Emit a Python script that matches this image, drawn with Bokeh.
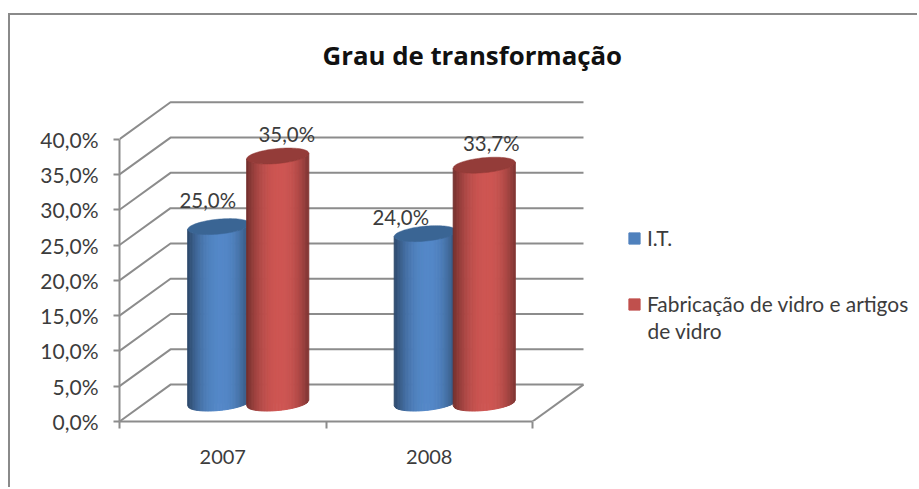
import numpy as np
from bokeh.core.properties import value
from bokeh.embed import file_html
from bokeh.models import (ColumnDataSource, FixedTicker, Label, Legend,
                          LegendItem, Range1d, Title)
from bokeh.plotting import figure
from bokeh.resources import INLINE

categories = ["2007", "2008"]
it_values = [25.0, 24.0]
vidro_values = [35.0, 33.7]
it_labels = ["25,0%", "24,0%"]
vidro_labels = ["35,0%", "33,7%"]
y_ticks = [0, 5, 10, 15, 20, 25, 30, 35, 40]
y_tick_labels = ["0,0%", "5,0%", "10,0%", "15,0%", "20,0%", "25,0%", "30,0%", "35,0%", "40,0%"]
chart_title = "Grau de transformação"
series_names = ["I.T.", "Fabricação de vidro e artigos"]
series_name_2nd_line = "de vidro"

FONT = "Lato"
TEXT = "#3c3c3c"
GRID = "#8c8c8c"
PX_X = 1 / 206.5   # data units per pixel, horizontally
PX_Y = 5 / 35.4    # data units per pixel, vertically
DEPTH_X = 51 * PX_X
DEPTH_Y = 37 * PX_Y
R, D, E = 29 * PX_X, 11 * PX_X, 8 * PX_Y
OFFSET = 29.5 * PX_X
N_STRIPS = 40

p = figure(width=909, height=474, output_backend="svg", toolbar_location=None,
           x_range=Range1d(0, 800 * PX_X), y_range=Range1d(0, 327 * PX_Y),
           min_border_left=109, min_border_right=0, min_border_top=79, min_border_bottom=68,
           background_fill_color="white", border_fill_color="white", outline_line_color=None,
           styles={"margin-left": "8px", "margin-top": "13px",
                   "border-left": "2px solid #8a8a8a", "border-top": "2px solid #8a8a8a"})
p.grid.visible = False

p.title = Title(text=chart_title, align="left", offset=203, standoff=42, vertical_align="top",
                text_font="Open Sans", text_font_size="25.8px", text_font_style="bold",
                text_color="#111111")

# axes
ya = p.yaxis[0]
ya.ticker = FixedTicker(ticks=y_ticks)
ya.major_label_overrides = dict(zip(y_ticks, y_tick_labels))
ya.bounds = (0, 40)
xa = p.xaxis[0]
xa.ticker = FixedTicker(ticks=[i + 0.5 for i in range(len(categories))],
                        minor_ticks=list(range(len(categories) + 1)))
xa.major_label_overrides = {i + 0.5: c for i, c in enumerate(categories)}
xa.bounds = (0, len(categories))
xa.major_tick_out = 0
xa.major_tick_in = 0
xa.minor_tick_out = 7
xa.minor_tick_in = 0
xa.minor_tick_line_color = GRID
xa.minor_tick_line_width = 2
xa.major_label_standoff = 21
ya.major_tick_out = 6
ya.major_tick_in = 0
ya.minor_tick_out = 0
ya.major_tick_line_color = GRID
ya.major_tick_line_width = 2
ya.major_label_standoff = 15
for ax in (xa, ya):
    ax.axis_line_color = GRID
    ax.axis_line_width = 2
    ax.major_label_text_font = FONT
    ax.major_label_text_color = TEXT
xa.major_label_text_font_size = "20px"
ya.major_label_text_font_size = "21px"

# walls and floor
n = len(categories)
xs = [[0, DEPTH_X, n + DEPTH_X] for _ in y_ticks]
ys = [[v, v + DEPTH_Y, v + DEPTH_Y] for v in y_ticks]
xs.append([n, n + DEPTH_X])
ys.append([0, DEPTH_Y])
p.multi_line(xs, ys, line_color=GRID, line_width=2)


def lower_s(x):
    a = 1 + D**2 / R**2
    b = -2 * x * D / R**2
    c = x**2 / R**2 - 1
    return (-b - np.sqrt(np.maximum(b**2 - 4 * a * c, 0))) / (2 * a)


def shade(color, f):
    return "#%02x%02x%02x" % tuple(int(min(255, round(ch * f))) for ch in color)


def cylinders(centres, values, base, edge_l, edge_r, top_color):
    W = np.sqrt(R**2 + D**2)
    edges = np.linspace(-W, W, N_STRIPS + 1)
    bx, by, bc = [], [], []
    tx, ty = [], []
    cy0 = DEPTH_Y / 2
    t = np.linspace(0, 2 * np.pi, 90)
    for cx, v in zip(centres, values):
        for i in range(N_STRIPS):
            x0, x1 = edges[i], edges[i + 1]
            y0, y1 = E * lower_s(x0), E * lower_s(x1)
            bx.append([cx + x0, cx + x1, cx + x1, cx + x0])
            by.append([cy0 + y0, cy0 + y1, cy0 + v + y1, cy0 + v + y0])
            u = (i + 0.5) / N_STRIPS * 2 - 1 - 0.1
            lim = edge_l if u < 0 else edge_r
            span = 1.1 if u < 0 else 0.9
            f = 1 - (1 - lim) * (abs(u) / span) ** 2.2
            bc.append(shade(base, f))
        tx.append(list(cx + R * np.cos(t) + D * np.sin(t)))
        ty.append(list(cy0 + v + E * np.sin(t)))
    body = p.patches("x", "y", fill_color="c", line_color="c", line_width=1,
                     source=ColumnDataSource(dict(x=bx, y=by, c=bc)))
    top = p.patches(tx, ty, fill_color=top_color, line_color=top_color, line_width=0.5)
    return body, top


floor = [i + 0.5 + DEPTH_X / 2 for i in range(n)]
it_x = [c - OFFSET for c in floor]
vi_x = [c + OFFSET for c in floor]

it_key = p.vbar(x=it_x, bottom=DEPTH_Y / 2, top=[v + DEPTH_Y / 2 for v in it_values],
                width=0.1, fill_color="#4f81bd", line_color="#4f81bd")
cylinders(it_x, it_values, (84, 136, 200), 0.52, 0.58, "#3a6594")
vi_key = p.vbar(x=vi_x, bottom=DEPTH_Y / 2, top=[v + DEPTH_Y / 2 for v in vidro_values],
                width=0.1, fill_color="#c0504d", line_color="#c0504d")
cylinders(vi_x, vidro_values, (206, 86, 83), 0.55, 0.62, "#943c39")

# data labels
for cs, vals, labels, dx, dy in (
    (it_x, it_values, it_labels, [-11, -24.5], [26.5, 17]),
    (vi_x, vidro_values, vidro_labels, [9, 7], [22, 22]),
):
    p.text(x=cs, y=[v + DEPTH_Y / 2 for v in vals], text=labels,
           x_offset=dx, y_offset=[-d for d in dy],
           text_font=value(FONT), text_font_size="20.4px", text_color=TEXT,
           text_align="center", text_baseline="middle")

legend = Legend(items=[LegendItem(label=series_names[0], renderers=[it_key]),
                       LegendItem(label=series_names[1], renderers=[vi_key])],
                location=(508, 105), orientation="vertical",
                background_fill_alpha=0, border_line_color=None,
                glyph_width=14, glyph_height=14, label_standoff=6,
                label_text_font=FONT, label_text_font_size="20.9px", label_text_color=TEXT,
                padding=0, margin=0, spacing=41)
p.add_layout(legend, "center")
p.add_layout(Label(x=528, y=91, x_units="screen", y_units="screen", text=series_name_2nd_line,
                   text_font=FONT, text_font_size="20.9px", text_color=TEXT,
                   text_baseline="middle"))

open("out.html", "w").write(file_html(p, INLINE))
